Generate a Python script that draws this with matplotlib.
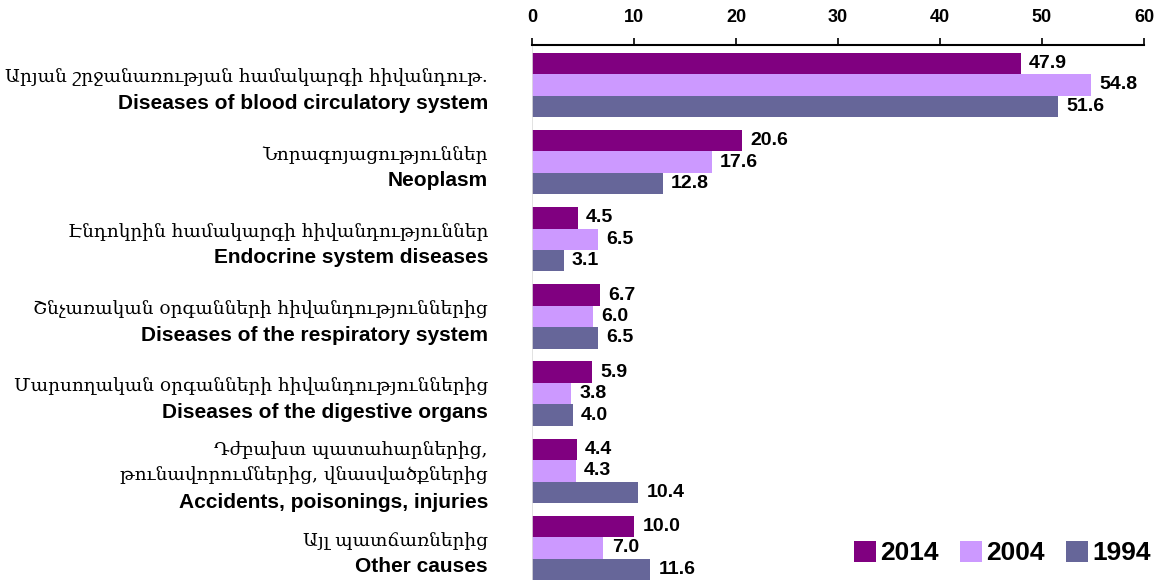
#Import Libraries
import numpy as np
import matplotlib.pyplot as plt
import matplotlib.transforms as mtransforms

#Chart data
labels_hy = [
    ["Արյան շրջանառության համակարգի հիվանդութ."],
    ["Նորագոյացություններ"],
    ["Էնդոկրին համակարգի հիվանդություններ"],
    ["Շնչառական օրգանների հիվանդություններից"],
    ["Մարսողական օրգանների հիվանդություններից"],
    ["Դժբախտ պատահարներից,", "թունավորումներից, վնասվածքներից"],
    ["Այլ պատճառներից"],
]
labels_en = [
    "Diseases of blood circulatory system",
    "Neoplasm",
    "Endocrine system diseases",
    "Diseases of the respiratory system",
    "Diseases of the digestive organs",
    "Accidents, poisonings, injuries",
    "Other causes",
]
years = ["2014", "2004", "1994"]
v2014 = [47.9, 20.6, 4.5, 6.7, 5.9, 4.4, 10.0]
v2004 = [54.8, 17.6, 6.5, 6.0, 3.8, 4.3, 7.0]
v1994 = [51.6, 12.8, 3.1, 6.5, 4.0, 10.4, 11.6]
colors = ["#800080", "#CC99FF", "#666699"]

plt.rcParams['font.family'] = ['Liberation Sans', 'DejaVu Sans']

fig = plt.figure(figsize=(11.65, 5.8), dpi=100)
ax = fig.add_axes([532/1165, 0.0, 612/1165, 535/580])

y = np.arange(len(labels_en))
h = 0.278
for k, (vals, col, yr) in enumerate(zip([v2014, v2004, v1994], colors, years)):
    pos = y - h + k * h
    ax.barh(pos, vals, height=h, color=col, label=yr)
    for p, v in zip(pos, vals):
        ax.annotate(f"{v:.1f}", xy=(v, p), xytext=(6, 0), textcoords='offset points',
                    va='center', ha='left', fontsize=14, fontweight='bold')

ax.set_xlim(0, 60)
ax.set_ylim(6.415, -0.518)
ax.xaxis.tick_top()
ax.set_xticks(range(0, 61, 10))
ax.tick_params(axis='x', direction='out', length=5, width=1.2, pad=9, labelsize=13)
for t in ax.get_xticklabels():
    t.set_fontweight('bold')
ax.set_yticks([])
for s in ['right', 'bottom']:
    ax.spines[s].set_visible(False)
ax.spines['left'].set_color('#dddddd')
ax.spines['left'].set_linewidth(0.6)
ax.spines['top'].set_linewidth(1.5)

#Category labels (Armenian + English lines)
trans = mtransforms.blended_transform_factory(ax.transAxes, ax.transData)
xlab = (488 - 532) / 612
for i in range(len(labels_en)):
    lines = [(t, 'normal', ['DejaVu Serif', 'DejaVu Sans'], 13.3) for t in labels_hy[i]]
    lines += [(labels_en[i], 'bold', ['Liberation Sans', 'DejaVu Sans'], 15)]
    n = len(lines)
    for j, (txt, wt, fam, fs) in enumerate(lines):
        off = -4 - (j - (n - 1) / 2) * 18.7
        ax.annotate(txt, xy=(xlab, i), xycoords=trans, xytext=(0, off),
                    textcoords='offset points', ha='right', va='center',
                    fontsize=fs, fontweight=wt, family=fam, annotation_clip=False)

leg = fig.legend(loc='lower right', bbox_to_anchor=(1.0, 0.0), ncol=3, frameon=False,
                 prop={'size': 19, 'weight': 'bold'}, handlelength=0.85, handleheight=0.85,
                 handletextpad=0.15, columnspacing=0.8, borderaxespad=0.15)

fig.savefig("out.png", dpi=100)
